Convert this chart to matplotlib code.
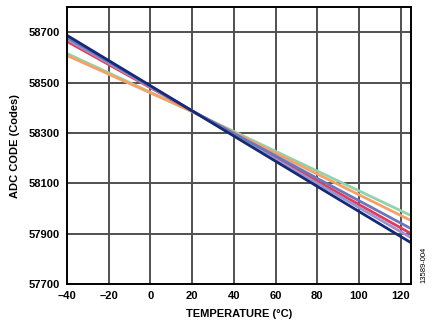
import matplotlib.pyplot as plt

# datos
temp = [-40, 20, 80, 125]
navy = [58688, 58388, 58088, 57864]
slate = [58680, 58388, 58120, 57920]
lavender = [58672, 58388, 58100, 57884]
red = [58664, 58388, 58109, 57900]
green = [58616, 58385, 58149, 57972]
orange = [58608, 58385, 58137, 57952]

xticks = [-40, -20, 0, 20, 40, 60, 80, 100, 120]
xlabels = ['\u201340', '\u201320', '0', '20', '40', '60', '80', '100', '120']
yticks = [57700, 57900, 58100, 58300, 58500, 58700]

plt.rcParams['font.family'] = ['Liberation Sans', 'DejaVu Sans']

fig = plt.figure(figsize=(4.35, 3.25), dpi=100)
ax = fig.add_axes([0.154, 0.126, 0.791, 0.852])

series = [(green, '#8fd3b0'), (orange, '#f6a165'), (red, '#e23a5c'),
          (lavender, '#a093cc'), (slate, '#6a78b8'), (navy, '#142a78')]
for vals, col in series:
    ax.plot(temp, vals, color=col, lw=2.0, solid_capstyle='butt')

ax.set_xlim(-40, 125)
ax.set_ylim(57700, 58800)
ax.set_xticks(xticks)
ax.set_xticklabels(xlabels)
ax.set_yticks(yticks)
for v in xticks[1:]:
    ax.axvline(v, color='#505050', lw=1.4, zorder=0)
for v in yticks[1:]:
    ax.axhline(v, color='#505050', lw=1.4, zorder=0)
ax.tick_params(length=0, labelsize=8, pad=5)
for lab in ax.get_xticklabels() + ax.get_yticklabels():
    lab.set_fontweight('bold')
for s in ax.spines.values():
    s.set_linewidth(1.4)

ax.set_xlabel('TEMPERATURE (\u00b0C)', fontsize=8, fontweight='bold', labelpad=6)
ax.set_ylabel('ADC CODE (Codes)', fontsize=8, fontweight='bold', labelpad=6)
fig.text(0.975, 0.185, '13589-004', rotation=90, fontsize=5.5, ha='center', va='center')

fig.savefig('out.png', dpi=100)
